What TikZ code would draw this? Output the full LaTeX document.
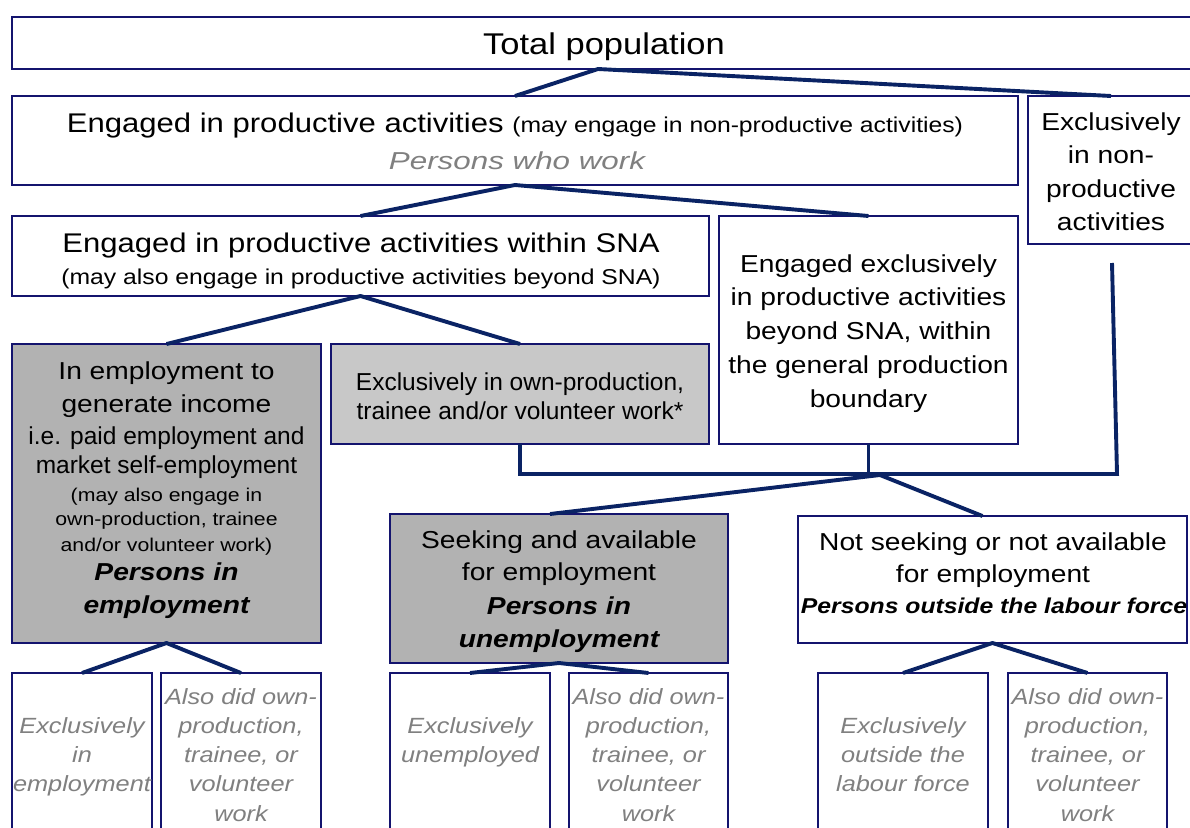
\documentclass[tikz,border=0pt]{standalone}
\usepackage{fontspec}
\setmainfont{Liberation Sans}[FakeStretch=1.15]
\newfontfamily\condsans{Liberation Sans}[FakeStretch=1.0]
\newfontfamily\widesans{Liberation Sans}[FakeStretch=1.28]

\definecolor{bordercol}{HTML}{14146E}
\definecolor{conncol}{HTML}{0A2364}
\definecolor{boxgray}{HTML}{B2B2B2}
\definecolor{boxlight}{HTML}{C8C8C8}
\definecolor{mutedgray}{HTML}{808080}

\newcommand\fsxl{\fontsize{30}{36}\selectfont}
\newcommand\fsl{\fontsize{27}{32}\selectfont}
\newcommand\fsm{\fontsize{24.5}{30}\selectfont}
\newcommand\fsj{\fontsize{22}{27}\selectfont}
\newcommand\fss{\fontsize{21.5}{26}\selectfont}
\newcommand\fsxs{\fontsize{18.5}{22}\selectfont}

\tikzset{
  box/.style={draw=bordercol, line width=1.4pt, inner sep=0pt, outer sep=0pt, rectangle},
  grayfill/.style={fill=boxgray},
  lightfill/.style={fill=boxlight},
  conn/.style={draw=conncol, line width=3.9pt, line join=round},
  lbl/.style={anchor=base, inner sep=0pt, outer sep=0pt, text=black},
  muted/.style={lbl, text=mutedgray},
}

\begin{document}
\begin{tikzpicture}[x=1pt, y=-1pt]
\useasboundingbox (0,0) rectangle (1190,827);
\fill[white] (0,0) rectangle (1190,827);
\clip (0,0) rectangle (1190,827);

% ---- boxes ----
\node[box, minimum width=1184pt, minimum height=52pt]  (top)     at (604,43)    {};
\node[box, minimum width=1006pt, minimum height=89pt]  (eng)     at (515,140.5) {};
\node[box, minimum width=166pt,  minimum height=148pt] (nonprod) at (1111,170)  {};
\node[box, minimum width=697pt,  minimum height=80pt]  (sna)     at (360.5,256) {};
\node[box, minimum width=299pt,  minimum height=228pt] (beyond)  at (868.5,330) {};
\node[box, grayfill,  minimum width=309pt, minimum height=299pt] (emp)  at (166.5,493.5) {};
\node[box, lightfill, minimum width=378pt, minimum height=100pt] (own)  at (520,394)   {};
\node[box, grayfill,  minimum width=338pt, minimum height=149pt] (seek) at (559,588.5) {};
\node[box, minimum width=389pt, minimum height=127pt] (notseek) at (992.5,579.5) {};
% bottom row
\node[box, minimum width=140pt, minimum height=167pt] (ja) at (82,756.5)    {};
\node[box, minimum width=160pt, minimum height=167pt] (jb) at (241,756.5)   {};
\node[box, minimum width=160pt, minimum height=167pt] (jc) at (470,756.5)   {};
\node[box, minimum width=159pt, minimum height=167pt] (jd) at (648.5,756.5) {};
\node[box, minimum width=170pt, minimum height=167pt] (je) at (903,756.5)   {};
\node[box, minimum width=159pt, minimum height=167pt] (jf) at (1087.5,756.5) {};

% ---- texts ----
\node[lbl] (ttop) at (604,54) {\fsxl Total population};
\node[lbl] (teng) at (515,132) {\fsl Engaged in productive activities \fss(may engage in non-productive activities)};
\node[muted] (twork) at (517,169) {\fsm\widesans\itshape Persons who work};

\foreach \t [count=\k from 0] in {Exclusively, in non-, productive, activities}
  \node[lbl] (tnp\k) at (1111,{130+33.5*\k}) {\fsm \t};

\node[lbl] (tsna1) at (361,252) {\fsl Engaged in productive activities within SNA};
\node[lbl] (tsna2) at (361,284.5) {\fss(may also engage in productive activities beyond SNA)};

\foreach \t [count=\k from 0] in {Engaged exclusively, in productive activities, {beyond SNA, within}, the general production, boundary}
  \node[lbl] (tby\k) at (868.5,{272+33.75*\k}) {\fsm \t};

\node[lbl] (temp1) at (166.5,379)   {\fsm In employment to};
\node[lbl] (temp2) at (166.5,412.5) {\fsm generate income};
\node[lbl] (temp3) at (166.5,444.5) {\fsm\condsans i.e. paid employment and};
\node[lbl] (temp4) at (166.5,473.5) {\fsm\condsans market self-employment};
\node[lbl] (temp5) at (166.5,501)   {\fsxs (may also engage in};
\node[lbl] (temp6) at (166.5,525.5) {\fsxs own-production, trainee};
\node[lbl] (temp7) at (166.5,551)   {\fsxs and/or volunteer work)};
\node[lbl] (temp8) at (166.5,580)   {\fsm\bfseries\itshape Persons in};
\node[lbl] (temp9) at (166.5,613.3) {\fsm\bfseries\itshape employment};

\node[lbl] (town1) at (520,390)   {\fsm\condsans Exclusively in own-production,};
\node[lbl] (town2) at (520,419) {\fsm\condsans trainee and/or volunteer work*};

\node[lbl] (tsk1) at (559,548.3) {\fsm Seeking and available};
\node[lbl] (tsk2) at (559,580.7) {\fsm for employment};
\node[lbl] (tsk3) at (559,614.5) {\fsm\bfseries\itshape Persons in};
\node[lbl] (tsk4) at (559,647.5) {\fsm\bfseries\itshape unemployment};

\node[lbl] (tns1) at (993,550) {\fsm Not seeking or not available};
\node[lbl] (tns2) at (993,582.5) {\fsm for employment};
\node[lbl] (tns3) at (994,613.5) {\fss\bfseries\itshape Persons outside the labour force};

% bottom row texts
\foreach \t [count=\k from 1] in {Exclusively, in, employment}
  \node[muted] (tja\k) at (82,{704+29.3*\k}) {\fsj\itshape \t};
\foreach \t [count=\k from 0] in {Also did own-, {production,}, {trainee, or}, volunteer, work}
  \node[muted] (tjb\k) at (241,{704+29.3*\k}) {\fsj\itshape \t};
\foreach \t [count=\k from 1] in {Exclusively, unemployed}
  \node[muted] (tjc\k) at (470,{704+29.3*\k}) {\fsj\itshape \t};
\foreach \t [count=\k from 0] in {Also did own-, {production,}, {trainee, or}, volunteer, work}
  \node[muted] (tjd\k) at (648.5,{704+29.3*\k}) {\fsj\itshape \t};
\foreach \t [count=\k from 1] in {Exclusively, outside the, labour force}
  \node[muted] (tje\k) at (903,{704+29.3*\k}) {\fsj\itshape \t};
\foreach \t [count=\k from 0] in {Also did own-, {production,}, {trainee, or}, volunteer, work}
  \node[muted] (tjf\k) at (1087.5,{704+29.3*\k}) {\fsj\itshape \t};

% ---- connectors ----
\coordinate (cdrop) at (1112,263);
\coordinate (bend)  at (1117,474);
\coordinate (jn)    at (880,475);

\draw[conn] (eng.north) -- ([xshift=-6pt]top.south) -- (nonprod.north);
\draw[conn] (sna.north) -- (eng.south) -- (beyond.north);
\draw[conn] (emp.north) -- (sna.south) -- (own.north);
\draw[conn, line join=miter] (own.south) |- (bend) -- (cdrop);
\draw[conn] (beyond.south) -- (beyond.south |- bend);
\draw[conn] ([xshift=-9pt]seek.north) -- (jn) -- ([xshift=-10pt]notseek.north);
\draw[conn] (ja.north) -- (emp.south) -- (jb.north);
\draw[conn] (jc.north) -- (seek.south) -- (jd.north);
\draw[conn] (je.north) -- (notseek.south) -- (jf.north);
\end{tikzpicture}
\end{document}
